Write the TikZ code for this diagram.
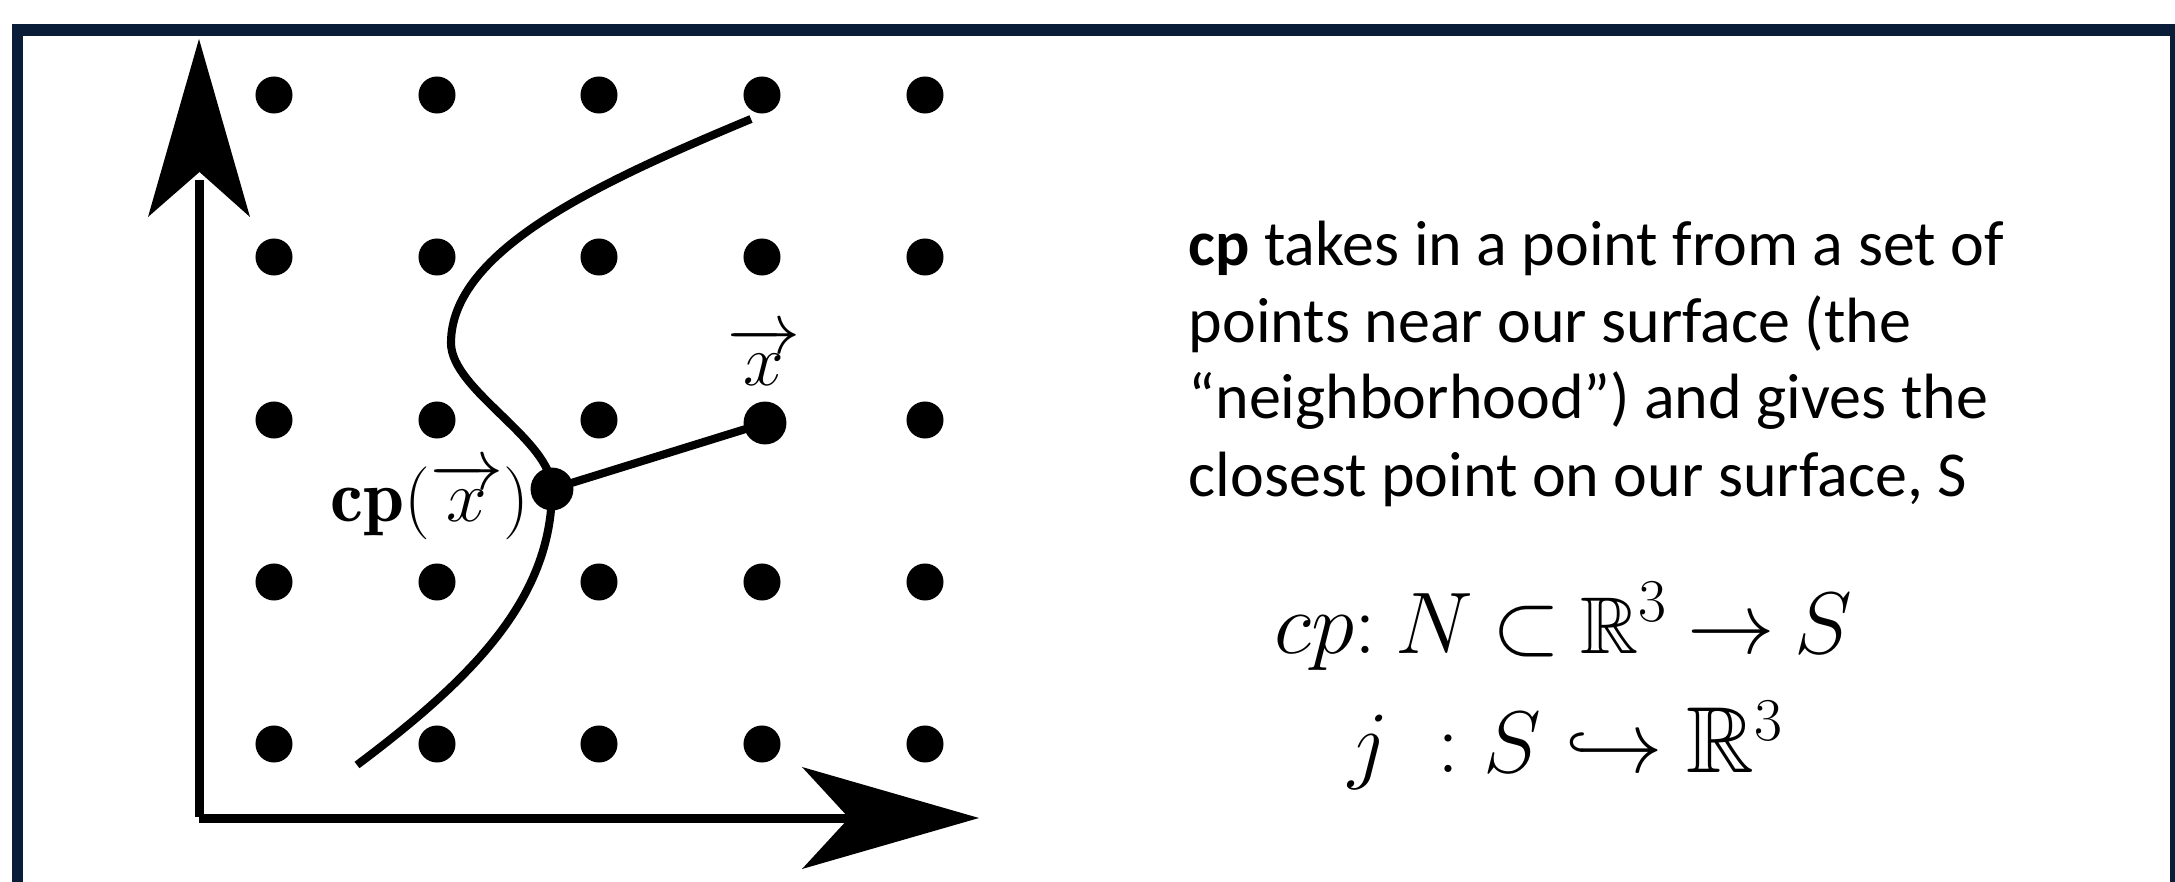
\documentclass[tikz,border=0pt]{standalone}
\usepackage{amsmath,amssymb}
\usepackage{fontspec}
\newfontfamily\calibri{Carlito}
\definecolor{framenavy}{RGB}{9,29,56}
\tikzset{
  griddot/.style={circle,fill=black,inner sep=0pt,minimum size=10.53pt},
  bigdot/.style={circle,fill=black,inner sep=0pt,minimum size=12.2pt},
  axisline/.style={line width=2.56pt,line cap=butt},
  curveline/.style={line width=2.3pt,line cap=butt},
  arrowhead/.style={fill=black},
  txt/.style={anchor=base west,inner sep=0pt,font=\calibri\fontsize{18.2}{21.9}\selectfont},
  framebox/.style={draw=framenavy,line width=3.41pt}
}
\begin{document}
\begin{tikzpicture}[x=0.01cm,y=-0.01cm]
\useasboundingbox (0,0) rectangle (2175,882);
\clip (0,0) rectangle (2175,882);
\fill[white] (0,0) rectangle (2175,882);
% frame
\draw[framebox] (17.5,30) rectangle (2176,920);
% grid of dots
\foreach \i/\x in {1/274,2/437,3/599,4/762,5/925}{
  \foreach \j/\y in {1/95,2/257,3/420,4/582,5/744}{
    \ifnum\i=4 \ifnum\j=3 \else
      \node[griddot] (d\i\j) at (\x,\y) {};
    \fi\else
      \node[griddot] (d\i\j) at (\x,\y) {};
    \fi
  }
}
% axes
\coordinate (origin) at (199.5,818);
\coordinate (ytip) at (199,39);
\coordinate (ynotch) at (199.5,172);
\coordinate (xtip) at (979,818);
\coordinate (xnotch) at (849,818);
\draw[axisline] (199.5,817) -- (199.5,180);
\draw[axisline] (199,818) -- (850,818);
\fill[arrowhead] (ytip) -- (148,217) -- (ynotch) -- (250,217) -- cycle;
\fill[arrowhead] (xtip) -- (802,767) -- (xnotch) -- (802,869) -- cycle;
% points
\node[bigdot] (cp) at (552,489) {};
\node[bigdot] (xpt) at (765,423) {};
% curve
\coordinate (ctop) at (751,119);
\coordinate (cleft) at (451,343);
\coordinate (cbot) at (357,765);
\draw[curveline] (ctop) .. controls (600,182) and (451,250) .. (cleft)
  .. controls (451,390) and (552,440) .. (cp.center)
  .. controls (552,600) and (470,680) .. (cbot);
\draw[curveline] (cp.center) -- (xpt.center);
% labels
\node[anchor=base west,inner sep=0pt,font=\fontsize{21}{25}\selectfont] (cplabel) at (330,521) {$\mathbf{cp}(\overrightarrow{x})$};
\node[anchor=base,inner sep=0pt,font=\fontsize{21}{25}\selectfont] (xlabel) at (764,385) {$\overrightarrow{x}$};
% text
\node[txt] (t1) at (1188,265) {\textbf{cp} takes in a point from a set of};
\node[txt] (t2) at (1188,342) {points near our surface (the};
\node[txt] (t3) at (1188,419) {“neighborhood”) and gives the};
\node[txt] (t4) at (1188,496) {closest point on our surface, S};
% equations
\node[anchor=base,inner sep=0pt,font=\fontsize{22.9}{27}\selectfont] (eq1) at (1563.5,653) {\thickmuskip=4mu $cp{:}\mskip\thickmuskip N \subset \mathbb{R}^3 \to S$};
\node[anchor=base,inner sep=0pt,font=\fontsize{26.7}{31}\selectfont] (eq2) at (1566.5,772) {$j \mathrel{\;:} S \hookrightarrow \mathbb{R}^3$};
\end{tikzpicture}
\end{document}
